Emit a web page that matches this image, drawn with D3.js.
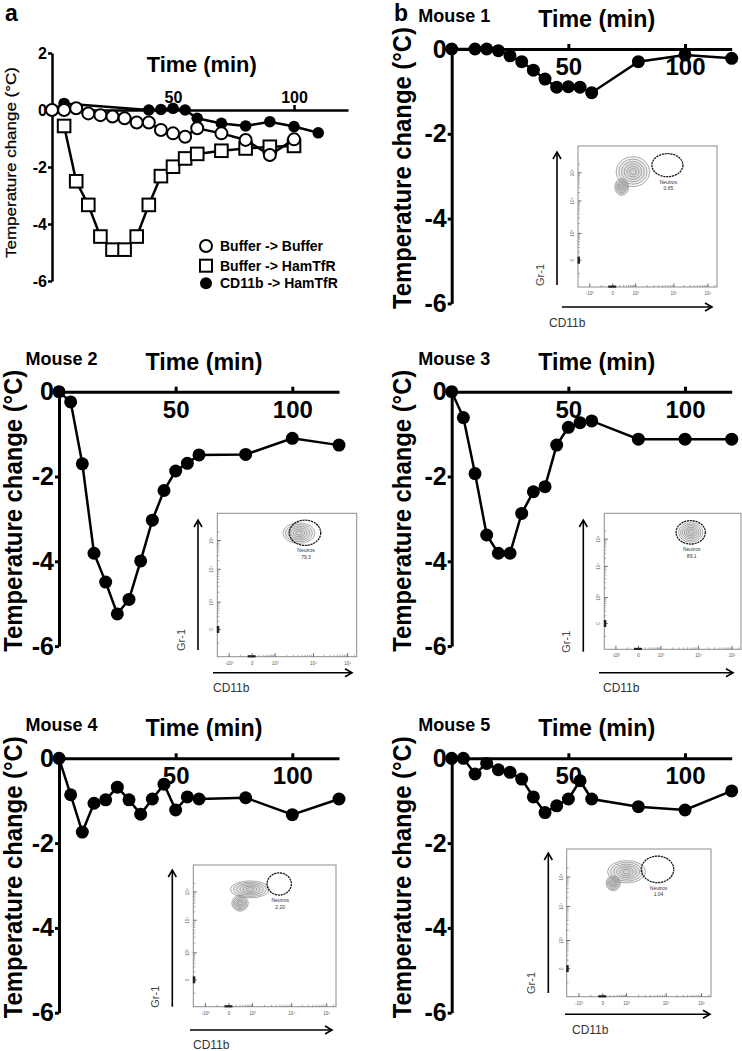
<!DOCTYPE html>
<html><head><meta charset="utf-8">
<script src="https://cdn.jsdelivr.net/npm/d3@7"></script>
<style>body{margin:0;background:#fff}svg{display:block}</style>
</head><body><svg id="c" width="742" height="1051"></svg>
<script>
// ---------------- DATA ----------------
// Panel a
const timesA_buffer = [0,5,10,15,20,25,30,35,40,45,50,55,60,70,80,90,100];
const valuesA_buffer = [0,0,0.06,-0.12,-0.18,-0.23,-0.29,-0.44,-0.44,-0.7,-0.82,-0.94,-0.64,-0.82,-1.05,-1.58,-1.03];
const timesA_ham = [5,10,15,20,25,30,35,40,45,50,55,60,70,80,90,100];
const valuesA_ham = [-0.56,-2.5,-3.33,-4.44,-4.9,-4.9,-4.44,-3.33,-2.32,-1.99,-1.7,-1.54,-1.43,-1.35,-1.29,-1.26];
const timesA_cd11b = [0,5,40,45,50,55,60,70,80,90,100,110];
const valuesA_cd11b = [0,0.23,0,0.02,0.06,0,-0.29,-0.47,-0.56,-0.41,-0.58,-0.8];
const legendLabels = ["Buffer -> Buffer","Buffer -> HamTfR","CD11b -> HamTfR"];
const yTicksA = [2,0,-2,-4,-6];
const xTicks = [50,100];
const yTicksB = [0,-2,-4,-6];

// Panel b
const mouseNames = ["Mouse 1","Mouse 2","Mouse 3","Mouse 4","Mouse 5"];
const timesM1 = [0,10,15,20,25,30,35,40,45,50,55,60,80,100,120];
const valuesM1 = [0,0,0,-0.04,-0.16,-0.3,-0.5,-0.71,-0.9,-0.89,-0.9,-1.03,-0.3,-0.14,-0.22];
const timesStd = [0,5,10,15,20,25,30,35,40,45,50,55,60,80,100,120];
const valuesM2 = [0,-0.24,-1.7,-3.81,-4.49,-5.24,-4.9,-3.99,-3.03,-2.33,-1.87,-1.69,-1.49,-1.48,-1.1,-1.26];
const valuesM3 = [0,-0.61,-1.93,-3.38,-3.81,-3.81,-2.87,-2.36,-2.24,-1.26,-0.84,-0.73,-0.69,-1.12,-1.12,-1.12];
const valuesM4 = [0,-0.86,-1.74,-1.06,-0.98,-0.68,-0.98,-1.32,-0.96,-0.61,-1.22,-0.91,-0.96,-0.93,-1.33,-0.96];
const valuesM5 = [0,0,-0.37,-0.12,-0.27,-0.33,-0.49,-0.91,-1.28,-1.12,-0.96,-0.53,-0.96,-1.14,-1.22,-0.77];
const mouseTimes = [timesM1,timesStd,timesStd,timesStd,timesStd];
const mouseValues = [valuesM1,valuesM2,valuesM3,valuesM4,valuesM5];

// Flow insets (units: decades, CD11b x / Gr-1 y)
const neutrosPct = ["0.65","79.3","89.1","2.20","1.04"];
const gateCenter = [[1.83,3.27],[1.78,3.27],[1.79,3.25],[1.68,3.28],[1.78,3.26]];
const gateRadius = [[0.42,0.41],[0.42,0.44],[0.40,0.43],[0.31,0.39],[0.42,0.45]];
const contourPops = [
  [[0.88,3.04,0.58,0.53],[0.39,2.5,0.3,0.3]],
  [[1.62,3.26,0.42,0.36]],
  [[1.79,3.25,0.33,0.36]],
  [[0.89,3.09,0.65,0.3],[0.47,2.6,0.35,0.28]],
  [[1.0,3.18,0.6,0.38],[0.44,2.79,0.3,0.25]]
];
const insetXTicks = [-1,0,1,2,3];
const insetXLabels = ["-10\u00B3","0","10\u00B3","10\u2074","10\u2075"];
const insetYTicks = [0,1,2,3];
const insetYLabels = ["0","10\u00B3","10\u2074","10\u2075"];

// ---------------- LAYOUT ----------------
const FONT = '"Liberation Sans", Arial, Helvetica, sans-serif';
const layoutB = [
  {x0:451.7,y0:49, labX:411, box:{x:578,y:146,w:139,h:141}, gr:{x:557,y1:285,y2:152}, cd:{y:307,x1:562,x2:712}, cdText:[549,327]},
  {x0:59,y0:391.7, labX:21.5, box:{x:217.3,y:513.3,w:139.4,h:143.4}, gr:{x:198,y1:650,y2:520}, cd:{y:672.7,x1:213,x2:352}, cdText:[213,692]},
  {x0:451.7,y0:391.7, labX:411, box:{x:604.3,y:513.3,w:136.7,h:136}, gr:{x:583.3,y1:651.7,y2:520}, cd:{y:672.7,x1:599,x2:733}, cdText:[603,692]},
  {x0:59,y0:758.3, labX:21.5, box:{x:193.3,y:865,w:142.7,h:141.7}, gr:{x:172.3,y1:1006.7,y2:870}, cd:{y:1030,x1:190,x2:332}, cdText:[193,1049]},
  {x0:451.7,y0:758.3, labX:411, box:{x:566.7,y:849,w:144.3,h:147.7}, gr:{x:548.3,y1:993,y2:853}, cd:{y:1014.3,x1:565,x2:710}, cdText:[572,1034]}
];
const insetXFrac = [0.085,0.25,0.415,0.69,0.935];
const insetYFrac = [0.81,0.62,0.39,0.19];

const svg = d3.select("#c");
svg.append("rect").attr("width",742).attr("height",1051).attr("fill","#fff");

function styleAxis(g, fs, sw){
  g.attr("font-family",FONT).attr("font-size",fs).attr("font-weight","bold");
  g.selectAll("path.domain").attr("stroke","#000").attr("stroke-width",sw);
  g.selectAll(".tick line").attr("stroke","#000").attr("stroke-width",sw);
  g.selectAll(".tick text").attr("fill","#000");
}
const fmt = d => String(d);

// ---------------- PANEL A ----------------
const xA = d3.scaleLinear().domain([0,122.3]).range([52,348]);
const yA = d3.scaleLinear().domain([-6,2]).range([281,53]);
const gA = svg.append("g");
const ayA = gA.append("g").attr("transform",`translate(${xA(0)},0)`)
  .call(d3.axisLeft(yA).tickValues(yTicksA).tickFormat(fmt).tickSize(4).tickSizeOuter(0).tickPadding(1));
styleAxis(ayA,16,2.5);
const axA = gA.append("g").attr("transform",`translate(0,${yA(0)})`)
  .call(d3.axisTop(xA).tickValues(xTicks).tickFormat(fmt).tickSizeInner(5).tickSizeOuter(0).tickPadding(2));
styleAxis(axA,16,2.5);
axA.selectAll(".tick text").attr("dy","0em");

gA.append("text").attr("x",5).attr("y",21).attr("font-family",FONT).attr("font-size",23).attr("font-weight","bold").text("a");
gA.append("text").attr("x",201.7).attr("y",71.5).attr("text-anchor","middle").attr("font-family",FONT)
  .attr("font-size",22).attr("font-weight","bold").attr("textLength",110).attr("lengthAdjust","spacingAndGlyphs").text("Time (min)");
gA.append("text").attr("transform","translate(16,162.5) rotate(-90)").attr("text-anchor","middle").attr("font-family",FONT)
  .attr("font-size",15).attr("textLength",191).attr("lengthAdjust","spacingAndGlyphs")
  .attr("stroke","#000").attr("stroke-width",0.25).text("Temperature change (\u00B0C)");

const lineA = d3.line().x(d=>xA(d[0])).y(d=>yA(d[1]));
const zip = (t,v) => t.map((ti,i)=>[ti,v[i]]);
const dHam = zip(timesA_ham,valuesA_ham), dCd = zip(timesA_cd11b,valuesA_cd11b), dBuf = zip(timesA_buffer,valuesA_buffer);
gA.append("path").attr("d",lineA(dHam)).attr("fill","none").attr("stroke","#000").attr("stroke-width",2.5);
gA.selectAll("rect.sq").data(dHam).join("rect").attr("class","sq")
  .attr("x",d=>xA(d[0])-6.3).attr("y",d=>yA(d[1])-6.3).attr("width",12.6).attr("height",12.6)
  .attr("fill","#fff").attr("stroke","#000").attr("stroke-width",2);
gA.append("path").attr("d",lineA(dCd)).attr("fill","none").attr("stroke","#000").attr("stroke-width",2.5);
gA.selectAll("circle.fc").data(dCd).join("circle").attr("class","fc")
  .attr("cx",d=>xA(d[0])).attr("cy",d=>yA(d[1])).attr("r",5.8).attr("fill","#000");
gA.append("path").attr("d",lineA(dBuf)).attr("fill","none").attr("stroke","#000").attr("stroke-width",2.5);
gA.selectAll("circle.oc").data(dBuf).join("circle").attr("class","oc")
  .attr("cx",d=>xA(d[0])).attr("cy",d=>yA(d[1])).attr("r",6).attr("fill","#fff").attr("stroke","#000").attr("stroke-width",2);

const legY = [246,265.7,283.3];
const lg = gA.append("g");
lg.append("circle").attr("cx",206).attr("cy",legY[0]).attr("r",6).attr("fill","#fff").attr("stroke","#000").attr("stroke-width",2);
lg.append("rect").attr("x",200).attr("y",legY[1]-6).attr("width",12).attr("height",12).attr("fill","#fff").attr("stroke","#000").attr("stroke-width",2);
lg.append("circle").attr("cx",206).attr("cy",legY[2]).attr("r",6).attr("fill","#000");
legendLabels.forEach((t,i)=>{
  lg.append("text").attr("x",220).attr("y",legY[i]+5).attr("font-family",FONT).attr("font-size",14).attr("font-weight","bold").text(t);
});

// ---------------- PANEL B ----------------
svg.append("text").attr("x",394).attr("y",21).attr("font-family",FONT).attr("font-size",23).attr("font-weight","bold").text("b");

function drawInset(g, L, i){
  const b = L.box;
  const ix = d3.scaleLinear().domain(insetXTicks).range(insetXFrac.map(f=>b.x+f*b.w));
  const iy = d3.scaleLinear().domain(insetYTicks).range(insetYFrac.map(f=>b.y+f*b.h));
  g.append("rect").attr("x",b.x).attr("y",b.y).attr("width",b.w).attr("height",b.h)
    .attr("fill","#fff").attr("stroke","#8c8c8c").attr("stroke-width",1);
  const minorY = [], minorX = [];
  for (let d=0; d<3; d++) for (let k=2;k<10;k++){ minorY.push(d+Math.log10(k)); minorX.push(d+Math.log10(k)); }
  [-0.5,3.3].forEach(v=>minorY.push(v));
  [-0.5,3.2].forEach(v=>minorX.push(v));
  g.selectAll("line.my").data(minorY).join("line").attr("class","my")
    .attr("x1",b.x).attr("x2",b.x+2).attr("y1",d=>iy(d)).attr("y2",d=>iy(d)).attr("stroke","#777").attr("stroke-width",0.6);
  g.selectAll("line.mx").data(minorX).join("line").attr("class","mx")
    .attr("x1",d=>ix(d)).attr("x2",d=>ix(d)).attr("y1",b.y+b.h).attr("y2",b.y+b.h-2).attr("stroke","#777").attr("stroke-width",0.6);
  g.selectAll("line.My").data(insetYTicks).join("line").attr("class","My")
    .attr("x1",b.x).attr("x2",b.x+3.5).attr("y1",d=>iy(d)).attr("y2",d=>iy(d)).attr("stroke","#444").attr("stroke-width",0.8);
  g.selectAll("line.Mx").data(insetXTicks).join("line").attr("class","Mx")
    .attr("x1",d=>ix(d)).attr("x2",d=>ix(d)).attr("y1",b.y+b.h).attr("y2",b.y+b.h-3.5).attr("stroke","#444").attr("stroke-width",0.8);
  g.append("rect").attr("x",b.x-0.5).attr("y",iy(0)-3.5).attr("width",2.5).attr("height",7).attr("fill","#222");
  g.append("rect").attr("x",ix(0)-4.5).attr("y",b.y+b.h-1.5).attr("width",8).attr("height",2.2).attr("fill","#222");
  insetYTicks.forEach((v,k)=>{
    g.append("text").attr("transform",`translate(${b.x-4},${iy(v)}) rotate(-90)`).attr("text-anchor","middle")
      .attr("font-family",FONT).attr("font-size",4.5).attr("fill","#555").text(insetYLabels[k]);
  });
  insetXTicks.forEach((v,k)=>{
    g.append("text").attr("x",ix(v)).attr("y",b.y+b.h+8).attr("text-anchor","middle")
      .attr("font-family",FONT).attr("font-size",4.5).attr("fill","#555").text(insetXLabels[k]);
  });
  contourPops[i].forEach(p=>{
    const cx = ix(p[0]), cy = iy(p[1]);
    const rx = (ix(p[0]+p[2])-ix(p[0]-p[2]))/2, ry = Math.abs(iy(p[1]+p[3])-iy(p[1]-p[3]))/2;
    [1,0.84,0.68,0.52,0.36,0.2].forEach(s=>{
      g.append("ellipse").attr("cx",cx).attr("cy",cy).attr("rx",rx*s).attr("ry",ry*s)
        .attr("fill","#aaa").attr("fill-opacity",0.12).attr("stroke","#8a8a8a").attr("stroke-width",0.7);
    });
  });
  const gc = gateCenter[i], gr = gateRadius[i];
  const gx = ix(gc[0]), gy = iy(gc[1]);
  const grx = (ix(gc[0]+gr[0])-ix(gc[0]-gr[0]))/2, gry = Math.abs(iy(gc[1]+gr[1])-iy(gc[1]-gr[1]))/2;
  g.append("ellipse").attr("cx",gx).attr("cy",gy).attr("rx",grx).attr("ry",gry)
    .attr("fill","none").attr("stroke","#1a1a1a").attr("stroke-width",1.3).attr("stroke-dasharray","2.2,0.7");
  g.append("text").attr("x",gx+1).attr("y",gy+gry+7).attr("text-anchor","middle").attr("font-family",FONT)
    .attr("font-size",5).attr("fill","#333").text("Neutros");
  g.append("text").attr("x",gx+1).attr("y",gy+gry+13.5).attr("text-anchor","middle").attr("font-family",FONT)
    .attr("font-size",5).attr("fill","#333").text(neutrosPct[i]);
  const A = L.gr, C = L.cd;
  g.append("line").attr("x1",A.x).attr("x2",A.x).attr("y1",A.y1).attr("y2",A.y2).attr("stroke","#000").attr("stroke-width",1.6);
  g.append("path").attr("d",`M${A.x-4},${A.y2+7}L${A.x},${A.y2}L${A.x+4},${A.y2+7}`).attr("fill","none").attr("stroke","#000").attr("stroke-width",1.6);
  g.append("line").attr("x1",C.x1).attr("x2",C.x2).attr("y1",C.y).attr("y2",C.y).attr("stroke","#000").attr("stroke-width",1.6);
  g.append("path").attr("d",`M${C.x2-7},${C.y-4}L${C.x2},${C.y}L${C.x2-7},${C.y+4}`).attr("fill","none").attr("stroke","#000").attr("stroke-width",1.6);
  g.append("text").attr("transform",`translate(${A.x-13},${A.y1-10}) rotate(-90)`).attr("text-anchor","middle")
    .attr("font-family",FONT).attr("font-size",11).attr("fill","#444").text("Gr-1");
  g.append("text").attr("x",L.cdText[0]).attr("y",L.cdText[1]).attr("font-family",FONT).attr("font-size",12).attr("fill","#333").text("CD11b");
}

layoutB.forEach((L,i)=>{
  const g = svg.append("g");
  drawInset(g.append("g"), L, i);
  const x = d3.scaleLinear().domain([0,120]).range([L.x0, L.x0+280]);
  const y = d3.scaleLinear().domain([-6,0]).range([L.y0+254.4, L.y0]);
  const ay = g.append("g").attr("transform",`translate(${L.x0},0)`)
    .call(d3.axisLeft(y).tickValues(yTicksB).tickFormat(fmt).tickSize(4).tickSizeOuter(0).tickPadding(1));
  styleAxis(ay,25,3);
  const ax = g.append("g").attr("transform",`translate(0,${L.y0})`)
    .call(d3.axisBottom(x).tickValues(xTicks).tickFormat(fmt).tickSizeInner(-5).tickSizeOuter(0).tickPadding(9));
  styleAxis(ax,24,3);
  g.append("text").attr("x",L.x0-33.5).attr("y",L.y0-27).attr("font-family",FONT).attr("font-size",18).attr("font-weight","bold").text(mouseNames[i]);
  g.append("text").attr("x",L.x0+145).attr("y",L.y0-22).attr("text-anchor","middle").attr("font-family",FONT)
    .attr("font-size",24).attr("font-weight","bold").attr("textLength",117).attr("lengthAdjust","spacingAndGlyphs").text("Time (min)");
  g.append("text").attr("transform",`translate(${L.labX},${L.y0+119}) rotate(-90)`).attr("text-anchor","middle")
    .attr("font-family",FONT).attr("font-size",25).attr("font-weight","bold").attr("textLength",282).attr("lengthAdjust","spacingAndGlyphs")
    .text("Temperature change (\u00B0C)");
  const data = zip(mouseTimes[i], mouseValues[i]);
  const line = d3.line().x(d=>x(d[0])).y(d=>y(d[1]));
  g.append("path").attr("d",line(data)).attr("fill","none").attr("stroke","#000").attr("stroke-width",2.5);
  g.selectAll("circle.pt").data(data).join("circle").attr("class","pt")
    .attr("cx",d=>x(d[0])).attr("cy",d=>y(d[1])).attr("r",6.5).attr("fill","#000");
});
</script></body></html>
